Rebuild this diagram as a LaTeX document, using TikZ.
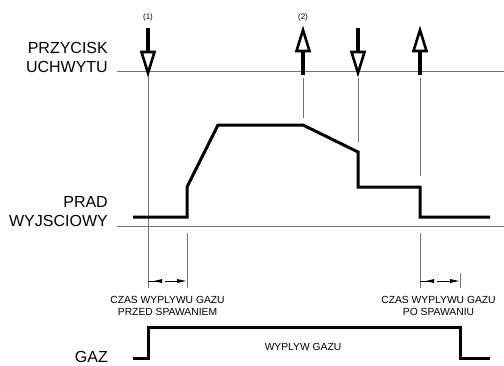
\documentclass[tikz,border=0pt]{standalone}
\usepackage{fontspec}
\setmainfont{Liberation Sans}
\begin{document}
\begin{tikzpicture}[x=1pt,y=-1pt,
  thinline/.style={draw=black!55,line width=0.6pt},
  wave/.style={line width=3pt,line join=miter,line cap=butt},
  shaft/.style={line width=4pt},
  head/.style={line width=2.6pt,line join=miter,fill=white},
  biglabel/.style={anchor=base east,inner sep=0pt,font=\fontsize{16}{19}\selectfont},
  smalllabel/.style={inner sep=0pt,font=\fontsize{10.3}{12}\selectfont,align=center},
  numlabel/.style={inner sep=0pt,font=\fontsize{8}{9}\selectfont},
  dimtip/.style={fill=black}]
\useasboundingbox (0,0) rectangle (504,365);
% labels
\node[biglabel] (l1) at (108,53) {PRZYCISK};
\node[biglabel] (l2) at (108,72) {UCHWYTU};
\node[biglabel] (l3) at (108,207) {PRAD};
\node[biglabel] (l4) at (108,226) {WYJSCIOWY};
\node[biglabel] (l5) at (108,362.5) {GAZ};
\node[numlabel] (n1) at (148,17) {(1)};
\node[numlabel] (n2) at (303,17) {(2)};
\node[smalllabel,anchor=base] (t1) at (167.5,303) {CZAS WYPLYWU GAZU};
\node[smalllabel,anchor=base] (t2) at (167.5,315) {PRZED SPAWANIEM};
\node[smalllabel,anchor=base] (t3) at (438.5,303) {CZAS WYPLYWU GAZU};
\node[smalllabel,anchor=base] (t4) at (438.5,315) {PO SPAWANIU};
\node[smalllabel,anchor=base] (t5) at (303,350) {WYPLYW GAZU};
% axis lines
\coordinate (h1a) at (117,71); \coordinate (h1b) at (504,71);
\coordinate (h2a) at (117,226); \coordinate (h2b) at (504,226);
\draw[thinline] (h1a) -- (h1b);
\draw[thinline] (h2a) -- (h2b);
% vertical guide lines
\coordinate (v1a) at (148,75); \coordinate (v1b) at (148,288);
\coordinate (v2a) at (187,233); \coordinate (v2b) at (187,288);
\coordinate (v3a) at (303,78); \coordinate (v3b) at (303,118);
\coordinate (v4a) at (358,78); \coordinate (v4b) at (358,142);
\coordinate (v5a) at (420,78); \coordinate (v5b) at (420,176);
\coordinate (v6a) at (420,233); \coordinate (v6b) at (420,288);
\coordinate (v7a) at (460,273); \coordinate (v7b) at (460,288);
\foreach \a/\b in {v1a/v1b,v2a/v2b,v3a/v3b,v4a/v4b,v5a/v5b,v6a/v6b,v7a/v7b}
  \draw[thinline] (\a) -- (\b);
% current waveform
\draw[wave] (133,217) -- (187,217) -- (187,187) -- (218,125) -- (303,125)
  -- (358,152) -- (358,187) -- (420,187) -- (420,217) -- (490,217);
% gas waveform
\draw[wave] (133,358) -- (148,358) -- (148,327) -- (460,327) -- (460,358) -- (490,358);
% button arrows: down
\foreach \x in {148,358}{
  \draw[shaft] (\x,28) -- (\x,51);
  \draw[head] (\x-6.5,52) -- (\x+6.5,52) -- (\x,73) -- cycle;
}
% button arrows: up
\foreach \x in {303,420}{
  \draw[shaft] (\x,52) -- (\x,75);
  \draw[head] (\x-6.5,51) -- (\x+6.5,51) -- (\x,30) -- cycle;
}
% dimension arrows
\foreach \xa/\xb in {148/187,420/460}{
  \draw[line width=1pt] (\xa,281) -- (\xa+14,281);
  \fill[dimtip] (\xa+6,281) -- (\xa+14,279) -- (\xa+14,283) -- cycle;
  \draw[line width=1pt] (\xa+17,281) -- (\xb-8,281);
  \fill[dimtip] (\xb-1,281) -- (\xb-10,279) -- (\xb-10,283) -- cycle;
}
\end{tikzpicture}
\end{document}
